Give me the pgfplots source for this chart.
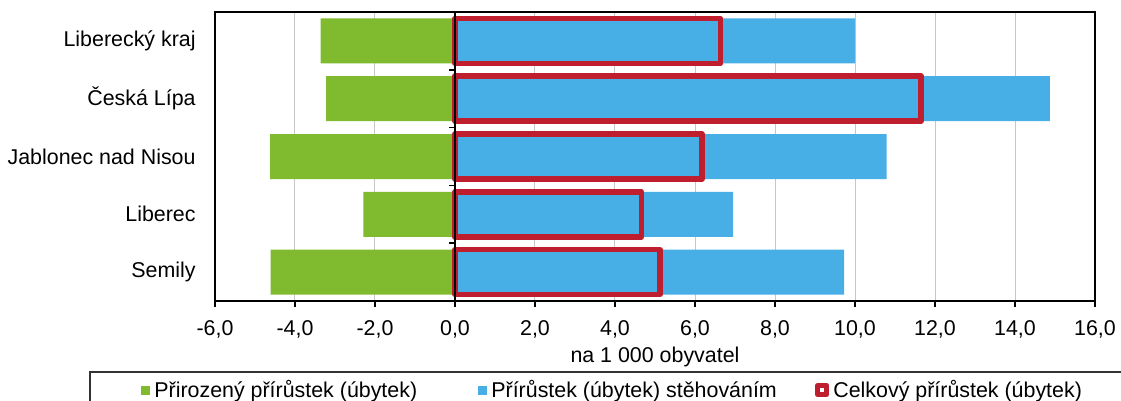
\documentclass[border=0pt]{standalone}
\usepackage{pgfplots}
\pgfplotsset{compat=1.18}
\usepackage{fontspec}
\setmainfont{Liberation Sans}
\usetikzlibrary{calc}
\definecolor{cgreen}{HTML}{7FBA2F}
\definecolor{cblue}{HTML}{48AEE6}
\definecolor{cred}{HTML}{BE1E2D}
\newcommand{\fs}{\fontsize{10.7pt}{12.8pt}\selectfont}
\begin{document}
\begin{tikzpicture}
\begin{axis}[
  name=ax, at={(0,0)}, anchor=south west,
  scale only axis, width=440pt, height=144.5pt,
  xbar, bar shift=0pt, bar width=22.5pt,
  xmin=-6, xmax=16, ymin=-0.5, ymax=4.5,
  xtick={-6,-4,...,16},
  ytick={0,1,2,3,4},
  yticklabels={Semily,Liberec,Jablonec nad Nisou,Česká Lípa,Liberecký kraj},
  xtick pos=left, tick align=outside,
  major tick length=3pt,
  ytick style={draw=none},
  xtick style={black, line width=0.8pt},
  axis line style={black, line width=0.8pt},
  xmajorgrids, grid style={color=black!22, line width=0.5pt},
  /pgf/number format/.cd, fixed, fixed zerofill, precision=1, use comma, assume math mode=true,
  /pgfplots/.cd,
  every tick label/.append style={font=\fs},
  xticklabel style={anchor=center, yshift=-11pt},
  yticklabel style={anchor=east, inner sep=0pt, xshift=-6.5pt},
  xlabel={na 1 000 obyvatel},
  xlabel style={font=\fs, at={(axis description cs:0.5,0)}, anchor=center, yshift=-28pt},
  clip=false,
  legend columns=3,
  legend style={draw=none, fill=none, inner sep=0pt, font=\fs,
    at={(-0.0841,-0.308)}, anchor=west,
    nodes={inner sep=0pt},
    /tikz/every odd column/.append style={column sep=2pt},
    /tikz/every even column/.append style={column sep=0pt}},
]
\addplot[fill=cgreen, draw=none,
  legend image code/.code={\fill[cgreen] (0pt,-2.25pt) rectangle (4.5pt,2.25pt);}]
  coordinates {(-4.61,0) (-2.29,1) (-4.62,2) (-3.22,3) (-3.36,4)};
\addlegendentry{\makebox[162pt][l]{Přirozený přírůstek (úbytek)}}
\addplot[fill=cblue, draw=none,
  legend image code/.code={\fill[cblue] (0pt,-2.25pt) rectangle (4.5pt,2.25pt);}]
  coordinates {(9.73,0) (6.95,1) (10.79,2) (14.87,3) (10.00,4)};
\addlegendentry{\makebox[162pt][l]{Přírůstek (úbytek) stěhováním}}
\addplot[fill=none, draw=cred, line width=2.75pt, line join=round,
  legend image code/.code={\draw[cred, fill=white, line width=2.5pt] (1.25pt,-2.25pt) rectangle (5.75pt,2.25pt);}]
  coordinates {(5.12,0) (4.66,1) (6.17,2) (11.65,3) (6.64,4)};
\addlegendentry{Celkový přírůstek (úbytek)}
\draw[black, line width=1.1pt] (axis cs:0,-0.5) -- (axis cs:0,4.5);
\draw[black, line width=1.1pt] (axis cs:-6,-0.5) -- (axis cs:16,-0.5);
\draw[black, line width=0.8pt] (axis cs:0,0.5) -- ++(-3pt,0pt);
\draw[black, line width=0.8pt] (axis cs:0,1.5) -- ++(-3pt,0pt);
\draw[black, line width=0.8pt] (axis cs:0,2.5) -- ++(-3pt,0pt);
\draw[black, line width=0.8pt] (axis cs:0,3.5) -- ++(-3pt,0pt);
\end{axis}
\draw[black!80, line width=0.6pt] ($(ax.south west)+(-62.5pt,-35.5pt)$) rectangle ($(ax.south west)+(470pt,-52pt)$);
\pgfresetboundingbox
\useasboundingbox ($(ax.south west)+(-107.5pt,-50pt)$) rectangle ($(ax.south west)+(453pt,150.5pt)$);
\end{tikzpicture}
\end{document}
